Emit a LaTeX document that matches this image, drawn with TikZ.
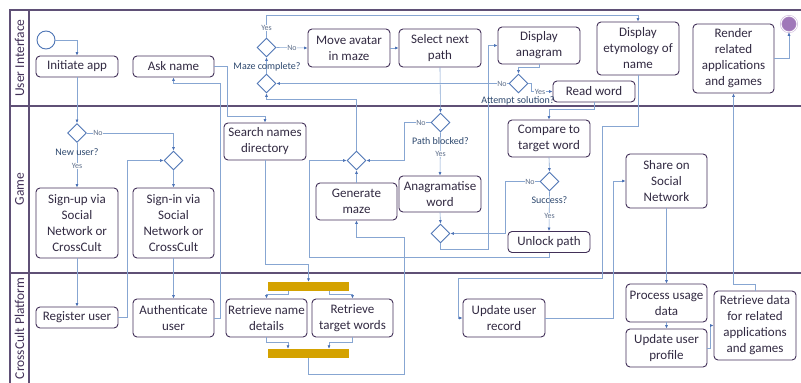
\documentclass[tikz,border=0pt]{standalone}
\usepackage{fontspec}
\setmainfont{Carlito}
\usetikzlibrary{positioning, arrows.meta, shapes.geometric}

\definecolor{boxline}{RGB}{66,48,88}
\definecolor{boxtext}{RGB}{50,42,66}
\definecolor{flowblue}{RGB}{135,166,210}
\definecolor{tipblue}{RGB}{70,110,180}
\definecolor{choiceblue}{RGB}{79,118,182}
\definecolor{laneline}{RGB}{95,80,118}
\definecolor{bargold}{RGB}{212,162,0}
\definecolor{endpurple}{RGB}{160,120,185}
\definecolor{asktext}{RGB}{45,72,110}
\definecolor{branchtext}{RGB}{95,112,140}

\newcommand{\boxfont}{\fontsize{13}{16}\selectfont}
\newcommand{\askfont}{\fontsize{10}{12}\selectfont}
\newcommand{\branchfont}{\fontsize{8}{9}\selectfont}
\newcommand{\lanefont}{\fontsize{13.5}{16}\selectfont}

\tikzset{
  task/.style={draw=boxline, line width=0.9pt, rounded corners=4pt, fill=white,
    align=center, inner sep=1pt, font=\boxfont, text=boxtext},
  choice/.style={diamond, draw=choiceblue, line width=0.9pt, fill=white,
    minimum size=19pt, inner sep=0pt},
  flow/.style={draw=flowblue, line width=0.6pt,
    -{Latex[length=3.5pt,width=3pt,color=tipblue]}},
  bar/.style={fill=bargold, minimum width=81pt, minimum height=9pt, inner sep=0pt},
  ask/.style={font=\askfont, text=asktext, inner sep=0pt},
  branch/.style={font=\branchfont, text=branchtext, fill=white, inner sep=0.6pt},
  lanelabel/.style={font=\lanefont, text=boxline, rotate=90},
  lane/.style={draw=laneline, line width=1.3pt}
}

\begin{document}
\begin{tikzpicture}[x=1pt, y=-1pt]
\useasboundingbox (0,0) rectangle (801,383);
\fill[white] (0,0) rectangle (801,383);

\draw[lane] (801,10) -- (10,10) -- (10,383);
\draw[lane] (29,10) -- (29,383);
\draw[lane] (10,106) -- (801,106);
\draw[lane] (10,273) -- (801,273);

\node[lanelabel] (uilane) at (19.5,58) {User Interface};
\node[lanelabel] (gamelane) at (19.5,189) {Game};
\node[lanelabel] (platformlane) at (19.5,328.5) {CrossCult Platform};

% user interface
\node (start) [circle, draw=choiceblue, line width=0.9pt, fill=white, minimum size=18pt, inner sep=0pt] at (46,40) {};
\node (initapp) [task, minimum width=82pt, minimum height=21pt] at (77,66.5) {Initiate app};
\node (askname) [task, minimum width=81pt, minimum height=21pt] at (173.5,66.5) {Ask name};
\node (mazedone) [choice] at (266.5,47.5) {};
\node (mazemerge) [choice] at (266.5,83.5) {};
\node (moveavatar) [task, minimum width=82pt, minimum height=38pt] at (349,48) {Move avatar\\in maze};
\node (nextpath) [task, minimum width=82pt, minimum height=38pt] at (440,48) {Select next\\path};
\node (showanagram) [task, minimum width=82pt, minimum height=37pt] at (539,45.5) {Display\\anagram};
\node (attempt) [choice] at (518.5,83.5) {};
\node (readword) [task, minimum width=82pt, minimum height=21pt] at (594,91.5) {Read word};
\node (etymology) [task, minimum width=82pt, minimum height=53pt] at (638,48.5) {Display\\etymology of\\name};
\node (render) [task, minimum width=81pt, minimum height=69pt] at (733.5,58.5) {Render\\related\\applications\\and games};
\node (finish) [circle, draw=endpurple!60, double=white, double distance=0.8pt, line width=0.5pt, fill=endpurple, minimum size=16pt, inner sep=0pt] at (789,24) {};

% game
\node (newuser) [choice] at (77,133) {};
\node (signmerge) [choice] at (173.5,160.5) {};
\node (signup) [task, minimum width=82pt, minimum height=70pt] at (77,223) {Sign-up via\\Social\\Network or\\CrossCult};
\node (signin) [task, minimum width=81pt, minimum height=70pt] at (173.5,223) {Sign-in via\\Social\\Network or\\CrossCult};
\node (searchnames) [task, minimum width=82pt, minimum height=37pt] at (265,141.5) {Search names\\directory};
\node (genmerge) [choice] at (356.5,160.5) {};
\node (genmaze) [task, minimum width=81pt, minimum height=37pt] at (356.5,201.5) {Generate\\maze};
\node (blocked) [choice] at (440.5,122.5) {};
\node (anagram) [task, minimum width=82pt, minimum height=36pt] at (440,194) {Anagramatise\\word};
\node (anamerge) [choice] at (440.5,233.5) {};
\node (compare) [task, minimum width=82pt, minimum height=37pt] at (549,138.5) {Compare to\\target word};
\node (success) [choice] at (549.5,181.5) {};
\node (unlock) [task, minimum width=82pt, minimum height=21pt] at (549,242) {Unlock path};
\node (share) [task, minimum width=81pt, minimum height=54pt] at (666.5,181) {Share on\\Social\\Network};

% platform
\node (register) [task, minimum width=82pt, minimum height=21pt] at (77,317.5) {Register user};
\node (authuser) [task, minimum width=81pt, minimum height=38pt] at (173.5,318) {Authenticate\\user};
\node (forkbar) [bar] at (308.5,286.5) {};
\node (namedetails) [task, minimum width=81pt, minimum height=38pt] at (266.5,318) {Retrieve name\\details};
\node (targetwords) [task, minimum width=81pt, minimum height=38pt] at (352.5,318) {Retrieve\\target words};
\node (joinbar) [bar] at (308.5,353.5) {};
\node (updaterecord) [task, minimum width=82pt, minimum height=38pt] at (504,318) {Update user\\record};
\node (usage) [task, minimum width=81pt, minimum height=38pt] at (666.5,303) {Process usage\\data};
\node (profile) [task, minimum width=81pt, minimum height=38pt] at (666.5,348) {Update user\\profile};
\node (relateddata) [task, minimum width=82pt, minimum height=69pt] at (755,325.5) {Retrieve data\\for related\\applications\\and games};

% connectors
\draw[flow] (start.east) -| (initapp.north);
\draw[flow] (initapp.south) -- (newuser.north);
\draw[flow] (newuser.east) -| (signmerge.north);
\draw[flow] (newuser.south) -- (signup.north);
\draw[flow] (signup.south) -- (register.north);
\draw[flow] (register.east) -- ++(9,0) |- (signmerge.west);
\draw[flow] (signmerge.south) -- (signin.north);
\draw[flow] (signin.south) -- (authuser.north);
\draw[flow] (authuser.east) -| (220,83) -| (askname.south);
\draw[flow] (askname.east) -| (227,116) -| (searchnames.north);
\draw[flow] (searchnames.south) |- (308.5,264) -- (forkbar.north);
\draw[flow] ([xshift=-20.5pt]forkbar.south) -- ++(0,3) -| (namedetails.north);
\draw[flow] ([xshift=20.5pt]forkbar.south) -- ++(0,3) -| (targetwords.north);
\draw[flow] (namedetails.south) -- ++(0,5) -| ([xshift=-20.5pt]joinbar.north);
\draw[flow] (targetwords.south) -- ++(0,5) -| ([xshift=20.5pt]joinbar.north);
\draw[flow] (joinbar.south) |- (404,374) |- (356.5,237) -- (genmaze.south);
\draw[flow] (genmaze.north) -- (genmerge.south);
\draw[flow] (genmerge.north) |- (266.5,99) -- (mazemerge.south);
\draw[flow] (mazemerge.north) -- (mazedone.south);
\draw[flow] (mazedone.east) -- (moveavatar.west);
\draw[flow] (mazedone.north) -- (266.5,15) -| (etymology.north);
\draw[flow] (moveavatar.east) -- (nextpath.west);
\draw[flow] (nextpath.south) -- (blocked.north);
\draw[flow] (blocked.west) -| (404,160.5) -- (genmerge.east);
\draw[flow] (blocked.south) -- (anagram.north);
\draw[flow] (anagram.south) -- (anamerge.north);
\draw[flow] (anamerge.south) -- ++(0,6) -| (488,45.5) -- (showanagram.west);
\draw[flow] (showanagram.south) -- ++(0,3) -| (attempt.north);
\draw[flow] (attempt.west) -- (mazemerge.east);
\draw[flow] (attempt.east) -- ++(3,0) |- (readword.west);
\draw[flow] (readword.south) -- ++(0,7) -| (compare.north);
\draw[flow] (compare.south) -- (success.north);
\draw[flow] (success.west) -| (505,233.5) -- (anamerge.east);
\draw[flow] (success.south) -- (unlock.north);
\draw[flow] (unlock.south) |- (309,257) |- (genmerge.west);
\draw[flow] (etymology.south) |- (602,126) |- (458,278) |- (updaterecord.west);
\draw[flow] (updaterecord.east) -| (613.5,181) -- (share.west);
\draw[flow] (share.south) -- (usage.north);
\draw[flow] (usage.south) -- (profile.north);
\draw[flow] (profile.east) -- ++(3,0) |- (relateddata.west);
\draw[flow] (relateddata.north) |- (733.5,284) -- (render.south);
\draw[flow] (render.east) -| (finish.south);

% decision labels
\node[ask] (mazeask) at (267,67) {Maze complete?};
\node[ask] (userask) at (77,152) {New user?};
\node[ask] (blockedask) at (440.5,141) {Path blocked?};
\node[ask] (attemptask) at (518,101) {Attempt solution?};
\node[ask] (successask) at (549.5,200) {Success?};

\node[branch] (mazeyes) at (266.5,28) {Yes};
\node[branch] (mazeno) at (292,48) {No};
\node[branch] (userno) at (98,133) {No};
\node[branch] (useryes) at (77,166) {Yes};
\node[branch] (blockedno) at (421,122.5) {No};
\node[branch] (blockedyes) at (440.5,154) {Yes};
\node[branch] (attemptno) at (502,83.5) {No};
\node[branch] (attemptyes) at (540,91.5) {Yes};
\node[branch] (successno) at (530,181.5) {No};
\node[branch] (successyes) at (549.5,216) {Yes};
\end{tikzpicture}
\end{document}
